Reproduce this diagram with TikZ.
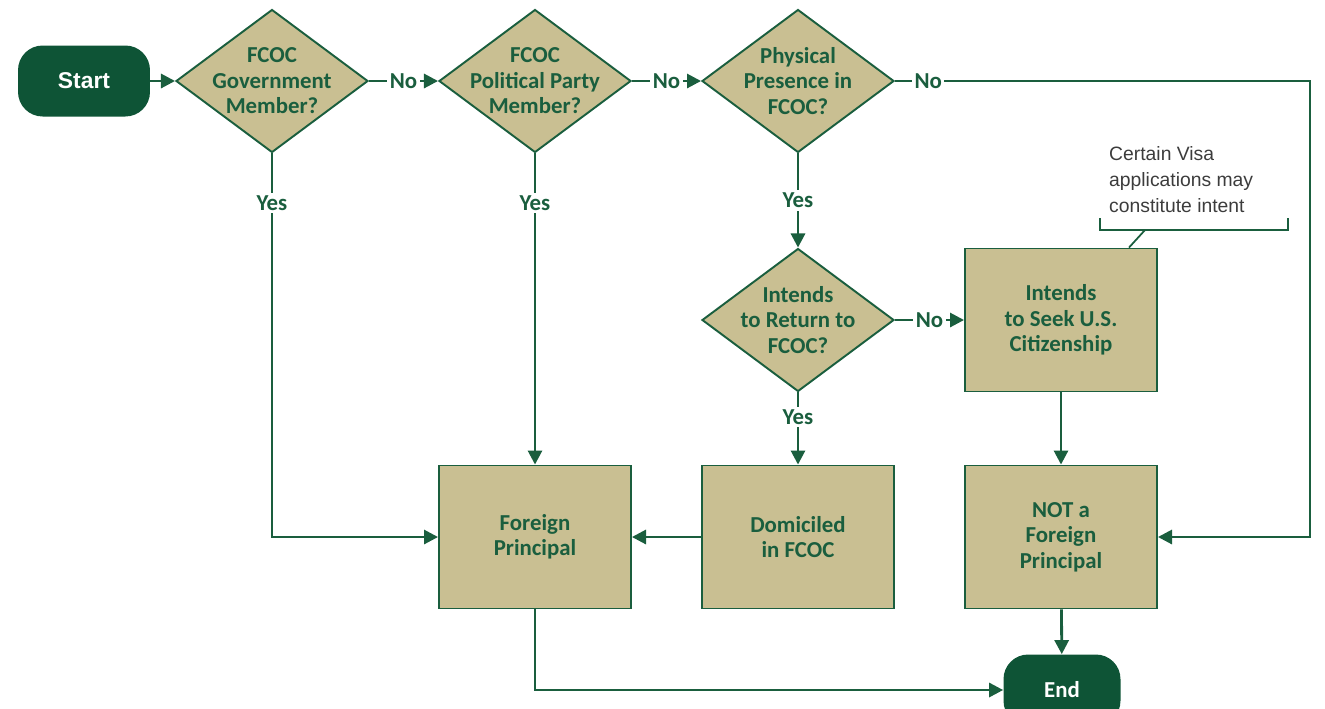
\documentclass[tikz,border=0pt]{standalone}
\usepackage{fontspec}
\setmainfont{Carlito}
\newfontfamily\arialfont{Liberation Sans}
\usetikzlibrary{shapes.geometric,arrows.meta}
\definecolor{fgreen}{RGB}{14,84,54}
\definecolor{lgreen}{RGB}{26,94,62}
\definecolor{ftan}{RGB}{201,191,146}
\definecolor{notegray}{RGB}{60,60,60}

\begin{document}
\begin{tikzpicture}[x=0.02cm,y=-0.02cm,
    every node/.style={font=\fontsize{13}{14.5}\selectfont\bfseries,text=lgreen,align=center},
    flow/.style={draw=lgreen,line width=1.6pt,-{Triangle[length=8pt,width=8pt]}},
    lab/.style={fill=white,inner sep=1.5pt},
    term/.style={fill=fgreen,rounded corners=14pt,text=white,minimum height=1.42cm},
    decision/.style={diamond,draw=lgreen,line width=1.1pt,fill=ftan,inner sep=0pt,
      minimum width=3.84cm,minimum height=2.86cm},
    stepbox/.style={rectangle,draw=lgreen,line width=1.1pt,fill=ftan,
      minimum width=3.84cm,minimum height=2.86cm}]
  \useasboundingbox (0,0) rectangle (1325,708);
  % top row
  \node[term,minimum width=2.64cm,font=\arialfont\fontsize{13}{15}\selectfont\bfseries] (start) at (84,81) {Start};
  \node[decision,label={center:FCOC\\Government\\Member?}] (gov) at (272,81) {};
  \node[decision,label={center:FCOC\\Political Party\\Member?}] (party) at (535,81) {};
  \node[decision,label={center:Physical\\Presence in\\FCOC?}] (phys) at (798,81) {};
  \coordinate (rim) at (1310,81);
  % middle row
  \node[decision,label={center:Intends\\to Return to\\FCOC?}] (ret) at (798,320) {};
  \node[stepbox] (seek) at (1061,320) {Intends\\to Seek U.S.\\Citizenship};
  \node[anchor=north west,align=left,text=notegray,
    font=\arialfont\fontsize{11}{15}\selectfont] (visa) at (1103,140)
    {Certain Visa\\applications may\\constitute intent};
  % bottom row
  \node[stepbox] (fp) at (535,537) {Foreign\\Principal};
  \node[stepbox] (dom) at (798,537) {Domiciled\\in FCOC};
  \node[stepbox] (notfp) at (1061,537) {NOT a\\Foreign\\Principal};
  \node[term,minimum width=2.34cm] (finish) at (1062,690) {End};
  % connectors
  \draw[flow] (start) -- (gov);
  \draw[flow] (gov) -- node[lab] {No} (party);
  \draw[flow] (party) -- node[lab] {No} (phys);
  \draw[flow] (phys) -- node[lab,pos=0.08] {No} (rim) |- (notfp);
  \draw[flow] (gov) |- node[lab,pos=0.065] {Yes} (fp);
  \draw[flow] (party) -- node[lab,pos=0.16] {Yes} (fp);
  \draw[flow] (phys) -- node[lab] {Yes} (ret);
  \draw[flow] (ret) -- node[lab] {No} (seek);
  \draw[flow] (ret) -- node[lab,pos=0.34] {Yes} (dom);
  \draw[flow] (dom) -- (fp);
  \draw[flow] (seek) -- (notfp);
  \draw[flow] (notfp) -- (finish);
  \draw[flow] (fp) |- (finish);
  % note bracket
  \coordinate (brk) at (1145,230);
  \draw[lgreen,line width=1pt] (1100,218) -- (1100,230) -- (1288,230) -- (1288,218);
  \draw[lgreen,line width=1pt] (brk) -- ([xshift=1.36cm]seek.north);
\end{tikzpicture}
\end{document}
